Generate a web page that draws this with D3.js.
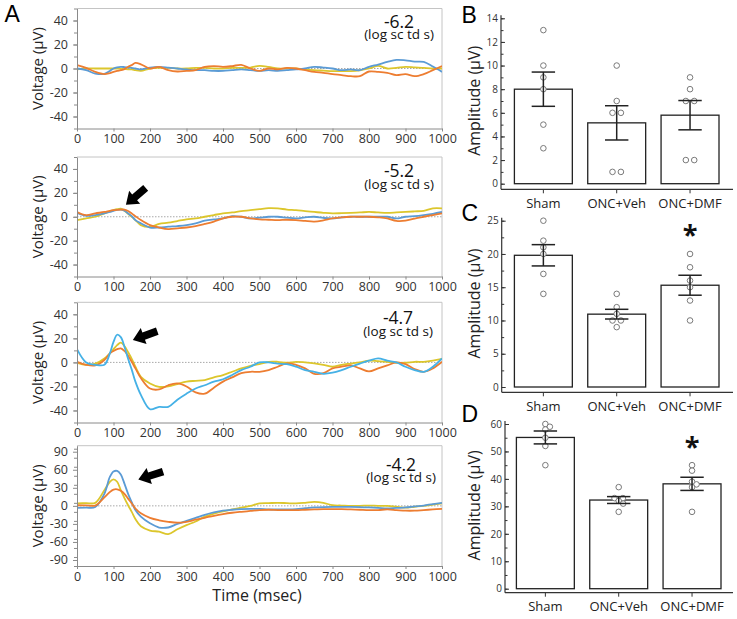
<!DOCTYPE html>
<html><head><meta charset="utf-8">
<script src="https://cdn.jsdelivr.net/npm/d3@7"></script>
<style>body{margin:0;background:#fff} svg{display:block;font-family:"Open Sans",sans-serif}</style>
</head><body>
<svg id="fig" width="737" height="619"></svg>
<script>
// ---------- DATA ----------
const timeMs = [0,25,50,75,90,100,110,120,130,140,150,160,175,200,225,250,275,300,325,350,375,400,425,450,475,500,525,550,575,600,625,650,675,700,725,750,775,800,825,850,875,900,925,950,975,1000];

const p1Blue   = [0,-1.4,-4.2,-4.5,-2,0,1,1.4,1.2,0.8,0.5,0,-0.8, 0.8,1.4,0.8,0,-0.8,-1.4,-1.4,-2,-2,-1.4,-0.8,-1.4,-2,-1.4,-2,-1.4,-0.8,0,1.4,0.8,0,-1.4,-0.8,-1.4,1.4,3.3,5.5,7.2,6.8,5.8,5.5,1.6,-2.8];
const p1Orange = [2.8,0.5,-2.8,-4.7,-3.8,-2.8,-2,-1.4,-0.5,1.4,2.8,4.6,3.5, 0,1.4,-1.4,-2.5,-2,-1.4,1.4,2,1.4,2,3,0,-2,0,-0.8,0.5,0,-1.4,-2.8,-3.6,-4.7,-5.5,-6.4,-6.4,-2.5,-2.8,-3.6,-5.5,-4.7,-6.4,-4.7,-1.4,2];
const p1Yellow = [-0.8,0,0,0,0,0,0,-0.3,-0.5,-0.7,-0.8,-1.4,-2, 0,0.5,0.5,0,0,0.5,0.5,0,0,0.5,0.5,0.8,2.2,1.4,0,0,0,-0.8,-1.4,-1.8,-2.2,-2.2,-2.2,-1.5,0,2.2,0,0.5,1.4,1,0.5,0,0];

const p2Blue   = [3.3,0.8,1.4,2.8,4,5,5.8,6,5,2.8,0.5,-2.8,-5.5, -9,-9,-8.3,-7.8,-7,-5.5,-3.3,-2.2,-1.4,0.5,0,-1.4,-0.8,0,0,-0.8,-1.4,-0.5,0,-1,-1.4,-0.5,0,0,0,0,0,-1.4,0,0.5,1.4,2.5,4];
const p2Orange = [4,1.4,2.8,4,5,5.5,5.8,6,6,4.8,2.8,0.5,-2.8, -7,-9,-10.3,-9.7,-9,-7.8,-6,-4,-1.4,0,0,-1.4,-2.2,-2.5,-2.8,-2.5,-2.8,-3.5,-4,-3,-1.4,-0.5,0,0,0,-0.5,-1.4,-3.5,-3.3,-1.5,0,1.4,2.8];
const p2Yellow = [-2.8,-1.4,0,2.8,4.5,5.5,6.3,6.7,5,2.5,0,-2.8,-7, -8.5,-6,-5,-3.6,-2.2,-1.4,0,1.4,2.8,3.6,4.7,5.5,6.4,7.2,7,6,5.5,4.7,4,3.3,2.8,3,3.3,3.6,4,3.6,3.3,3.6,4,4.5,5,7,7];

const p3Blue   = [11,0,-2,-2,7.5,17,23,21,13,3,-6,-16,-27, -39,-37,-37,-31,-26,-21.7,-19,-16,-14,-10.5,-6.4,-3.6,0,0,-1,-1.5,-3.6,-6.4,-7.8,-9.5,-8.6,-6.4,-3.6,-1,1.4,3.3,1.4,0,-3.6,-6.4,-7.8,-3.6,3.3];
const p3Orange = [0.5,-2,-2.5,2,7.5,9.5,11,11.7,9.5,5.5,0.5,-5,-13, -21.7,-22.5,-19,-17.5,-20,-25,-26,-21,-16,-12.5,-9,-7.8,-7.8,-6.4,-3.6,-0.8,-2,-5,-9.5,-9,-5,-3.6,-2.5,-5,-7.5,-5,-2.5,0,-1.5,-5.5,-7.8,-5,0.5];
const p3Yellow = [-0.3,-2,-1,3.3,7.5,11,14.4,16.4,13.6,8.5,3,-3.6,-12, -17.5,-20.3,-20,-18,-16,-15.3,-14.7,-12.5,-10.5,-7.8,-5,-2.8,-1.4,0.5,0.5,-0.3,0.5,0,-0.8,-2,-3.6,-2,-1,0,1.4,1,0.5,-0.3,-0.3,0.5,0.5,1.5,3];

const p4Blue   = [-3.3,-3,-2,20,48,57,58,52,37,20,6,-7,-18, -29,-36,-36,-30,-25,-20,-15,-11,-8,-6.5,-5.5,-5,-5,-6,-6,-6,-5.5,-4,-2.7,-2,-1.6,-1.6,-1.6,-2,-2.7,-3.5,-4.4,-3.5,-2.7,-1,0.5,3,5];
const p4Orange = [1,0.8,0.5,14,23,27,27.5,25,20,12,4,-4.4,-12.5, -20,-24,-26.5,-28,-26.5,-23,-19.8,-16.5,-13.7,-11.5,-9.9,-8.5,-7,-6.5,-7,-7,-7,-6.5,-6,-5.5,-5.5,-5.5,-6,-6.5,-7,-7,-6,-7,-8,-8,-7,-6,-5];
const p4Yellow = [4,4.5,5,26,40,44,40,26,13,1,-10,-22,-34, -41,-43,-47,-39,-32,-26,-18,-13,-9,-6,-3,0,4,4.5,5,4.5,4,5,6.5,5,1,0.5,0,0,0.5,0,0,-1.5,-3,-1.5,0,2,4];

const intensityLabels = ["-6.2","-5.2","-4.7","-4.2"];
const intensityUnit = "(log sc td s)";
const xTickValues = [0,100,200,300,400,500,600,700,800,900,1000];
const yTicksSmall = [-40,-20,0,20,40];
const yTicksLarge = [-90,-60,-30,0,30,60,90];
const arrowTips = [null, [134,10], [153,18.6], [168,43.7]];   // data coords (ms, µV)

const groups = ["Sham","ONC+Veh","ONC+DMF"];
const bMeans = [8.0,5.15,5.8];
const bSems  = [1.45,1.45,1.24];
const bPoints = [[13,10,9,8,5,3],[10,7,6,6,1,1],[9,8,7,7,2,2]];
const bTicks = [0,2,4,6,8,10,12,14];
const cMeans = [19.8,10.95,15.3];
const cSems  = [1.6,0.73,1.5];
const cPoints = [[25,22,21,20,17,14],[14,12,11,10,10,9],[20,18,16,15,13,10]];
const cTicks = [0,5,10,15,20,25];
const dMeans = [55.1,32.3,38.2];
const dSems  = [2.35,1.25,2.4];
const dPoints = [[60,59,58,55,52,45],[37,33,33,32,31,28],[45,43,39,38,37,28]];
const dTicks = [0,10,20,30,40,50,60];
const significant = [[false,false,false],[false,false,true],[false,false,true]];

// ---------- DRAW ----------
const svg = d3.select("#fig");
const FONT = '"Open Sans", sans-serif';
const LFONT = '"Liberation Sans", Arial, sans-serif';
const col = {blue:"#5b9bd5", cyan:"#45b1e6", orange:"#ed7d31", yellow:"#dcc62c"};
const xA = d3.scaleLinear().domain([0,1000]).range([77,442]);

const aLayout = [
  {top:8.5,  bottom:128.5, dom:[-50,50],   major:yTicksSmall, minorStep:10, numY:27.5, logY:39,  lx:399, series:[[p1Yellow,col.yellow],[p1Blue,col.blue],[p1Orange,col.orange]], arrowAng:0},
  {top:157,  bottom:276.5, dom:[-50,50],   major:yTicksSmall, minorStep:10, numY:177,  logY:189, lx:399, series:[[p2Yellow,col.yellow],[p2Blue,col.blue],[p2Orange,col.orange]], arrowAng:139.5},
  {top:302.3,bottom:422.5, dom:[-50,50],   major:yTicksSmall, minorStep:10, numY:324,  logY:336, lx:398, series:[[p3Yellow,col.yellow],[p3Orange,col.orange],[p3Blue,col.cyan]], arrowAng:160},
  {top:445.7,bottom:566,   dom:[-100,100], major:yTicksLarge, minorStep:15, numY:470.5,logY:482, lx:401, series:[[p4Yellow,col.yellow],[p4Blue,col.blue],[p4Orange,col.orange]], arrowAng:162}
];

aLayout.forEach((L, i) => {
  const y = d3.scaleLinear().domain(L.dom).range([L.bottom, L.top]);
  const g = svg.append("g");
  g.append("path").attr("d", `M${xA(0)},${L.top}H${xA(1000)}V${L.bottom}`)
    .attr("fill","none").attr("stroke","#c4c4c4").attr("stroke-width",1);
  g.append("line").attr("x1",xA(0)).attr("x2",xA(1000)).attr("y1",y(0)).attr("y2",y(0))
    .attr("stroke","#a8a8a8").attr("stroke-width",1).attr("stroke-dasharray","1.5,1.5");
  const cid = "clipA"+i;
  svg.append("clipPath").attr("id",cid).append("rect")
    .attr("x",xA(0)).attr("y",L.top).attr("width",xA(1000)-xA(0)).attr("height",L.bottom-L.top);
  const line = d3.line().x((d,k)=>xA(timeMs[k])).y(d=>y(d)).curve(d3.curveCatmullRom.alpha(0.5));
  L.series.forEach(([vals,c]) => {
    g.append("path").attr("d", line(vals)).attr("fill","none").attr("stroke",c)
      .attr("stroke-width",1.8).attr("stroke-linejoin","round").attr("clip-path",`url(#${cid})`);
  });
  const minor = [];
  for (let v = L.dom[0]; v <= L.dom[1]; v += L.minorStep) minor.push(v);
  const ym = g.append("g").attr("transform",`translate(${xA(0)},0)`)
    .call(d3.axisLeft(y).tickValues(minor).tickSize(3).tickSizeOuter(0).tickFormat(""));
  ym.select(".domain").remove();
  ym.selectAll("line").attr("stroke","#8a8a8a");
  const ya = g.append("g").attr("transform",`translate(${xA(0)},0)`)
    .call(d3.axisLeft(y).tickValues(L.major).tickSize(4).tickSizeOuter(0).tickPadding(5).tickFormat(d=>String(d)));
  ya.select(".domain").attr("stroke","#8a8a8a");
  ya.selectAll("line").attr("stroke","#8a8a8a");
  ya.selectAll("text").attr("font-size",12.5).attr("font-family",FONT).attr("fill","#333");
  const xa = g.append("g").attr("transform",`translate(0,${L.bottom})`)
    .call(d3.axisBottom(xA).tickValues(xTickValues).tickSize(3).tickSizeOuter(0).tickPadding(3).tickFormat(d=>String(d)));
  xa.select(".domain").attr("stroke","#8a8a8a");
  xa.selectAll("line").attr("stroke","#8a8a8a");
  xa.selectAll("text").attr("font-size",12.5).attr("font-family",FONT).attr("fill","#333");
  g.append("text").attr("transform",`translate(37.5,${(L.top+L.bottom)/2}) rotate(-90)`)
    .attr("text-anchor","middle").attr("dy","0.35em").attr("font-size",15).attr("font-family",FONT)
    .attr("fill","#222").text("Voltage (µV)");
  // intensity annotation: one text block with two lines
  const ann = g.append("text").attr("text-anchor","middle").attr("font-family",FONT).attr("fill","#111");
  ann.append("tspan").attr("x",L.lx).attr("y",L.numY).attr("font-size",17.5).text(intensityLabels[i]);
  ann.append("tspan").attr("x",L.lx).attr("y",L.logY).attr("font-size",13.5).text(intensityUnit);
  if (arrowTips[i]) {
    const [tx,tv] = arrowTips[i];
    const pts = [[0,0],[-11.5,-8.5],[-11.5,-3.8],[-26,-3.8],[-26,3.8],[-11.5,3.8],[-11.5,8.5]];
    g.append("polygon").attr("points", pts.map(p=>p.join(",")).join(" "))
      .attr("transform",`translate(${xA(tx)},${y(tv)}) rotate(${L.arrowAng})`).attr("fill","#000");
  }
});
svg.append("text").attr("x",257).attr("y",601).attr("text-anchor","middle")
  .attr("font-size",16).attr("font-family",FONT).attr("fill","#222").text("Time (msec)");
svg.append("text").attr("x",4.5).attr("y",22).attr("font-size",23).attr("font-family",LFONT).attr("fill","#000").text("A");

// ---------- BAR PANELS ----------
const barPanels = [
  {letter:"B", letterY:23,   xr:[506.7,726.7], axisX:501,   yTop:18.3,  y0:183.7, axisY:189.3, domain:[0,14], ticks:bTicks, minorStep:1,   means:bMeans, sems:bSems, points:bPoints, sig:significant[0]},
  {letter:"C", letterY:220.5,xr:[506.7,726.7], axisX:501.7, yTop:220.7, y0:387,   axisY:392.3, domain:[0,25], ticks:cTicks, minorStep:2.5, means:cMeans, sems:cSems, points:cPoints, sig:significant[1]},
  {letter:"D", letterY:422,  xr:[508.7,728.7], axisX:505,   yTop:424,   y0:588.7, axisY:592.7, domain:[0,60], ticks:dTicks, minorStep:5,   means:dMeans, sems:dSems, points:dPoints, sig:significant[2]}
];

barPanels.forEach(P => {
  const x = d3.scaleBand().domain(groups).range(P.xr).paddingInner(0.21).paddingOuter(0.105);
  const y = d3.scaleLinear().domain(P.domain).range([P.y0, P.yTop]);
  const g = svg.append("g");
  const cx = d => x(d) + x.bandwidth()/2;
  g.selectAll("rect.bar").data(groups).join("rect").attr("class","bar")
    .attr("x", d=>x(d)).attr("width", x.bandwidth())
    .attr("y", (d,i)=>y(P.means[i])).attr("height", (d,i)=>y(0)-y(P.means[i]))
    .attr("fill","#fff").attr("stroke","#222").attr("stroke-width",1.3);
  groups.forEach((gname, i) => {
    const vals = P.points[i];
    const placed = [];
    const counts = d3.rollup(vals, v=>v.length, d=>d);
    const seen = new Map();
    vals.forEach(v => {
      const py = y(v);
      let off;
      const n = counts.get(v);
      if (n > 1) {
        const k = seen.get(v) || 0; seen.set(v, k+1);
        off = (k - (n-1)/2) * 8.4;
      } else {
        const cands = [0,4.5,-4.5,9,-9];
        off = cands.find(o => placed.every(p => Math.hypot(p[0]-o, p[1]-py) >= 4.5));
        if (off === undefined) off = 0;
      }
      placed.push([off, py]);
      g.append("circle").attr("cx", cx(gname)+off).attr("cy", py).attr("r",2.8)
        .attr("fill","#fff").attr("stroke","#7a7a7a").attr("stroke-width",1);
    });
  });
  groups.forEach((gname, i) => {
    const hi = y(P.means[i]+P.sems[i]), lo = y(P.means[i]-P.sems[i]), c = cx(gname);
    g.append("line").attr("x1",c).attr("x2",c).attr("y1",hi).attr("y2",lo).attr("stroke","#222").attr("stroke-width",1.5);
    [hi,lo].forEach(yy => g.append("line").attr("x1",c-11.7).attr("x2",c+11.7).attr("y1",yy).attr("y2",yy)
      .attr("stroke","#222").attr("stroke-width",1.5));
    if (P.sig[i]) {
      g.append("text").attr("x",c).attr("y", y(d3.max(P.points[i])) - 24 + 14.5)
        .attr("text-anchor","middle").attr("font-size",27).attr("font-weight","bold")
        .attr("font-family",FONT).attr("fill","#111").text("*");
    }
  });
  const minor = [];
  for (let v = P.domain[0]; v <= P.domain[1] + 1e-9; v += P.minorStep) minor.push(v);
  const ym = g.append("g").attr("transform",`translate(${P.axisX},0)`)
    .call(d3.axisLeft(y).tickValues(minor).tickSize(-2.5).tickSizeOuter(0).tickFormat(""));
  ym.select(".domain").remove();
  ym.selectAll("line").attr("stroke","#333");
  const ya = g.append("g").attr("transform",`translate(${P.axisX},0)`)
    .call(d3.axisLeft(y).tickValues(P.ticks).tickSize(-4).tickSizeOuter(0).tickPadding(3).tickFormat(d=>String(d)));
  ya.select(".domain").remove();
  ya.selectAll("line").attr("stroke","#333");
  ya.selectAll("text").attr("font-size",10).attr("font-family",FONT).attr("fill","#333");
  g.append("line").attr("x1",P.axisX).attr("x2",P.axisX).attr("y1",P.yTop-3).attr("y2",P.axisY)
    .attr("stroke","#333").attr("stroke-width",1.2);
  g.append("line").attr("x1",P.axisX).attr("x2",733).attr("y1",P.axisY).attr("y2",P.axisY)
    .attr("stroke","#333").attr("stroke-width",1.2);
  const xa = g.append("g").attr("transform",`translate(0,${P.axisY})`)
    .call(d3.axisBottom(x).tickSize(4).tickSizeOuter(0).tickPadding(5));
  xa.select(".domain").remove();
  xa.selectAll("line").attr("stroke","#333");
  xa.selectAll("text").attr("font-size",13).attr("font-family",FONT).attr("fill","#222");
  g.append("text").attr("transform",`translate(474,${(P.yTop+P.axisY)/2 - 3}) rotate(-90)`)
    .attr("text-anchor","middle").attr("dy","0.35em").attr("font-size",16).attr("font-family",FONT)
    .attr("fill","#222").text("Amplitude (µV)");
  g.append("text").attr("x",461.5).attr("y",P.letterY).attr("font-size",23).attr("font-family",LFONT)
    .attr("fill","#000").text(P.letter);
});
</script>
</body></html>
